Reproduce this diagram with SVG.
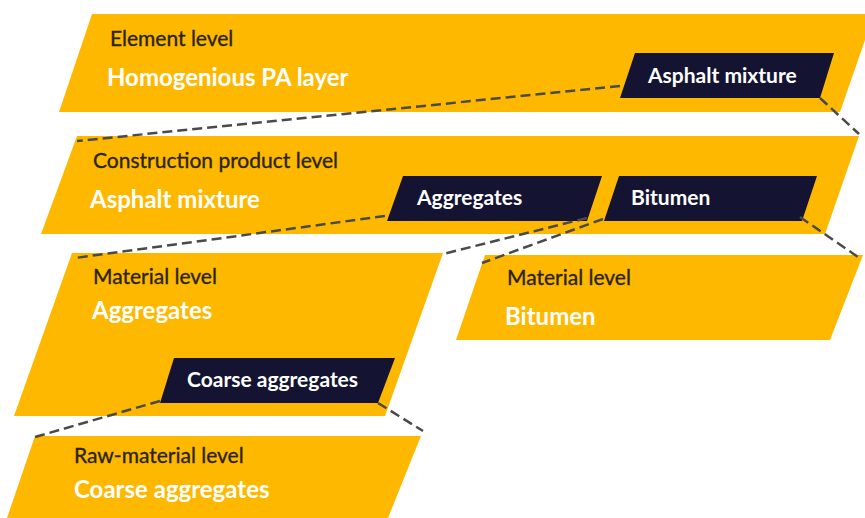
<svg xmlns="http://www.w3.org/2000/svg" width="865" height="518" viewBox="0 0 865 518">
  <style>
    .panel { fill: #FFB800; }
    .tag { fill: #141432; }
    .level { font-family: Lato, "Liberation Sans", sans-serif; font-size: 21px; fill: #2b2410; stroke: #2b2410; stroke-width: 0.35; }
    .name { font-family: Lato, "Liberation Sans", sans-serif; font-size: 24px; font-weight: bold; fill: #ffffff; }
    .tagtext { font-family: Lato, "Liberation Sans", sans-serif; font-size: 21px; font-weight: bold; fill: #ffffff; }
    .link { fill: none; stroke: #4a4a4a; stroke-width: 2.5; stroke-dasharray: 10 5; }
  </style>
  <rect width="865" height="518" fill="#ffffff"/>

  <g id="element-level">
    <polygon class="panel" points="92,14 874,14 840,112 59,112"/>
    <text class="level" x="110" y="46">Element level</text>
    <text class="name" x="107" y="86">Homogenious PA layer</text>
    <polygon class="tag" points="635,53 834,53 820,98 620,98"/>
    <text class="tagtext" x="648" y="83">Asphalt mixture</text>
  </g>

  <g id="construction-product-level">
    <polygon class="panel" points="77,136 859,136 825,234 41,234"/>
    <text class="level" x="93" y="168">Construction product level</text>
    <text class="name" x="90" y="208">Asphalt mixture</text>
    <polygon class="tag" points="403,176 602,176 587,221 387,221"/>
    <text class="tagtext" x="417" y="205">Aggregates</text>
    <polygon class="tag" points="619,176 817,176 802,221 604,221"/>
    <text class="tagtext" x="631" y="205">Bitumen</text>
  </g>

  <g id="material-level-aggregates">
    <polygon class="panel" points="72,253 443,253 385,416 14,416"/>
    <text class="level" x="93" y="284">Material level</text>
    <text class="name" x="92" y="319">Aggregates</text>
    <polygon class="tag" points="174,358 395,358 378,403 160,403"/>
    <text class="tagtext" x="187" y="387">Coarse aggregates</text>
  </g>

  <g id="material-level-bitumen">
    <polygon class="panel" points="485,255 863,255 830,340 456,340"/>
    <text class="level" x="507" y="285">Material level</text>
    <text class="name" x="505" y="325">Bitumen</text>
  </g>

  <g id="raw-material-level">
    <polygon class="panel" points="35,436 421,436 388,518 7,518"/>
    <text class="level" x="74" y="463">Raw-material level</text>
    <text class="name" x="74" y="498">Coarse aggregates</text>
  </g>

  <g id="connectors">
    <line class="link" x1="620" y1="86" x2="77" y2="141"/>
    <line class="link" x1="820" y1="98" x2="859" y2="134"/>
    <line class="link" x1="385" y1="216" x2="75" y2="258"/>
    <line class="link" x1="587" y1="218" x2="443" y2="254"/>
    <line class="link" x1="603" y1="219" x2="482" y2="263"/>
    <line class="link" x1="800" y1="217" x2="858" y2="257"/>
    <line class="link" x1="160" y1="401" x2="35" y2="437"/>
    <line class="link" x1="378" y1="403" x2="423" y2="431"/>
  </g>
</svg>
